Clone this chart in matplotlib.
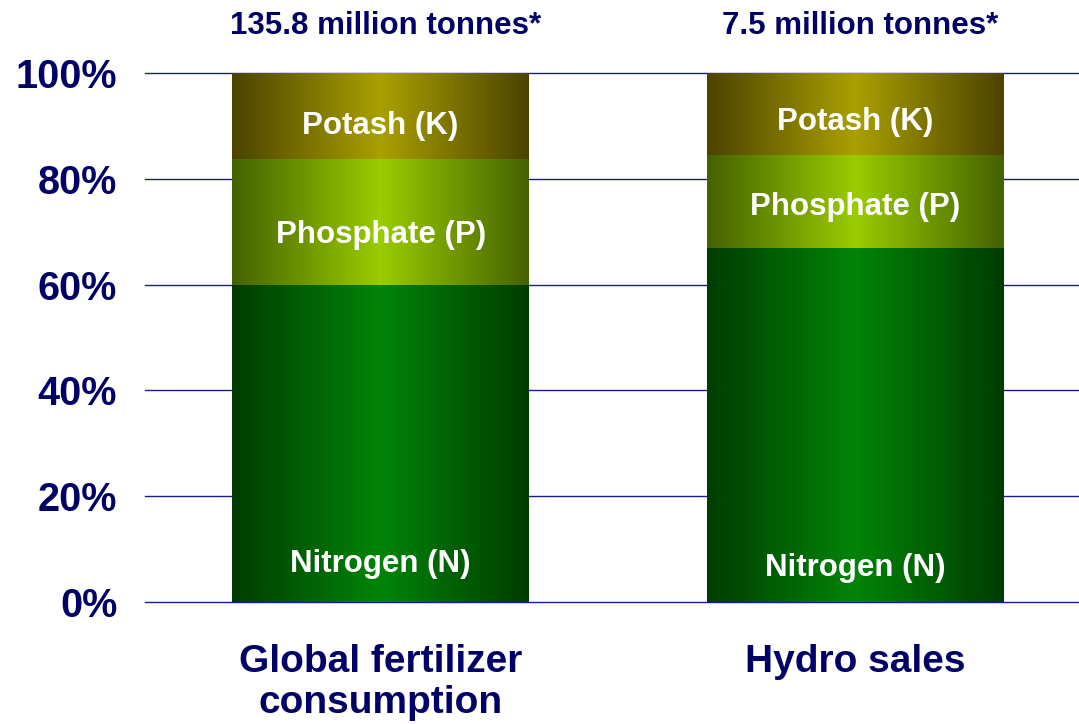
import numpy as np
import matplotlib.pyplot as plt
from matplotlib.colors import LinearSegmentedColormap

plt.rcParams['font.family'] = ['Liberation Sans', 'DejaVu Sans']
plt.rcParams['font.weight'] = 'bold'

# Data
categories = ["Global fertilizer\nconsumption", "Hydro sales"]
totals = ["135.8 million tonnes*", "7.5 million tonnes*"]
nutrients = ["Nitrogen (N)", "Phosphate (P)", "Potash (K)"]
nitrogen = [60.0, 67.0]
phosphate = [23.8, 17.5]
potash = [16.2, 15.5]

# label heights inside each segment (layout only)
label_y = [[7.2, 69.4, 90.0], [6.5, 74.7, 90.7]]

navy = "#000066"
grad = {
    "Nitrogen (N)": ("#003c00", "#008408"),
    "Phosphate (P)": ("#456200", "#9acc00"),
    "Potash (K)": ("#4b4300", "#aaa000"),
}

fig = plt.figure(figsize=(10.79, 7.24), dpi=100)
ax = fig.add_axes([145 / 1079, 122 / 724, 1 - 145 / 1079, (602 - 73) / 724])

x = np.arange(len(categories))
width = 0.625
values = [nitrogen, phosphate, potash]
bottom = np.zeros(len(categories))

# horizontal gradient: dark edges, bright centre
profile = 1 - np.abs(np.linspace(-1, 1, 256))
profile = profile[np.newaxis, :]

for name, vals in zip(nutrients, values):
    bars = ax.bar(x, vals, width, bottom=bottom, color="none", edgecolor="none", zorder=2)
    cmap = LinearSegmentedColormap.from_list(name, grad[name])
    for b in bars:
        x0, y0 = b.get_x(), b.get_y()
        ax.imshow(profile, cmap=cmap, aspect="auto", vmin=0, vmax=1,
                  extent=[x0, x0 + b.get_width(), y0, y0 + b.get_height()],
                  zorder=2, interpolation="bilinear")
    bottom = bottom + np.array(vals)

for i in range(len(categories)):
    for j, name in enumerate(nutrients):
        ax.text(x[i], label_y[i][j], name, ha="center", va="center",
                color="white", fontsize=22.5, fontweight="bold", zorder=3)
    ax.text(x[i] + 0.01, 1.088, totals[i], transform=ax.get_xaxis_transform(),
            ha="center", va="center", color=navy, fontsize=22.5, fontweight="bold")

ax.set_xlim(-0.496, 1.4705)
ax.set_ylim(0, 100)
ax.set_yticks(np.arange(0, 101, 20))
ax.set_yticklabels([f"{v}%" for v in range(0, 101, 20)])
ax.tick_params(axis="y", length=0, pad=20, labelsize=28.5, labelcolor=navy)
ax.set_xticks(x)
ax.set_xticklabels(categories, linespacing=1.2)
ax.tick_params(axis="x", length=0, pad=30, labelsize=28, labelcolor=navy)
for lbl in ax.get_xticklabels() + ax.get_yticklabels():
    lbl.set_fontweight("bold")

ax.grid(axis="y", color="#1a1a8c", linewidth=1.0, zorder=0)
ax.set_axisbelow(True)
for line in ax.get_ygridlines():
    line.set_clip_on(False)
for s in ax.spines.values():
    s.set_visible(False)

fig.savefig("out.png", dpi=100)
